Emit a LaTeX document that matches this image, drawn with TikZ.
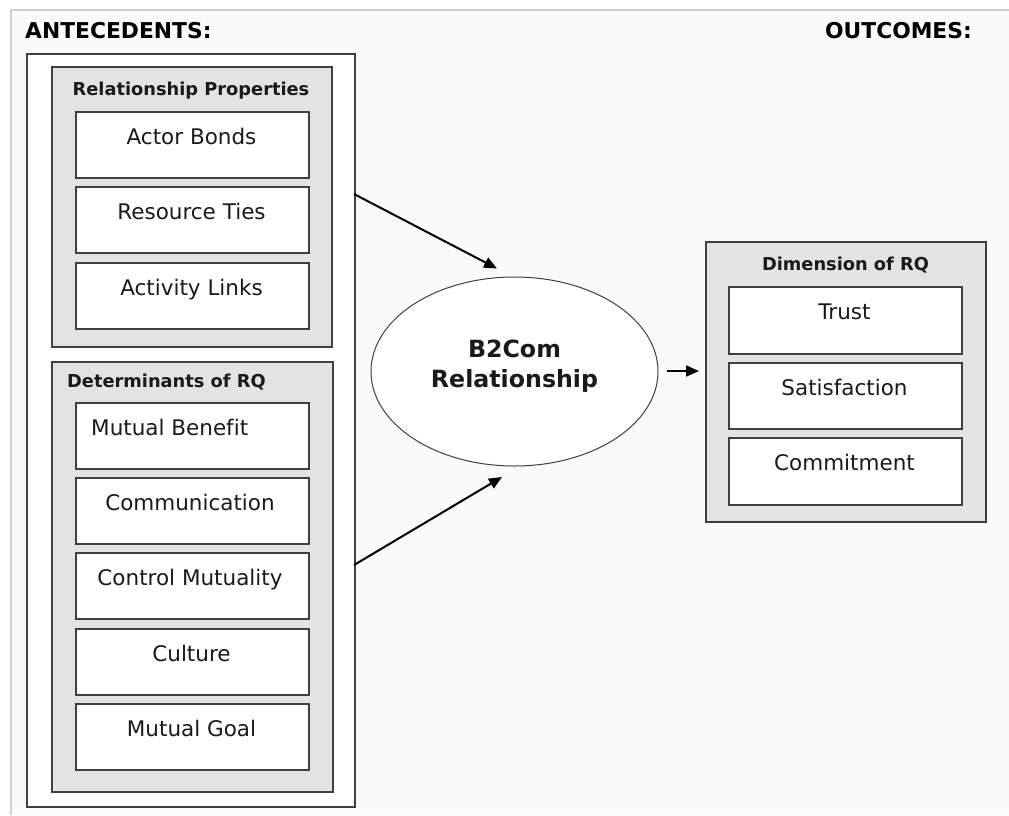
\documentclass[tikz,border=0pt]{standalone}
\usepackage{fontspec}
\setmainfont{DejaVu Sans}[Ligatures=NoCommon]
\usetikzlibrary{shapes.geometric,arrows.meta}
\definecolor{bordc}{HTML}{404040}
\definecolor{grayfill}{HTML}{E3E3E3}
\definecolor{bgc}{HTML}{FAFAFA}
\definecolor{framec}{HTML}{CFCFCF}
\definecolor{txtc}{HTML}{1A1A1A}
\tikzset{
  box/.style={draw=bordc, line width=1.5pt, rectangle, inner sep=0pt, anchor=north west},
  wbox/.style={box, fill=white},
  gbox/.style={box, fill=grayfill},
  itemtext/.style={font=\fontsize{21.5pt}{26pt}\selectfont, text=txtc, inner sep=0pt, anchor=base},
  headtext/.style={font=\fontsize{17.8pt}{22pt}\selectfont\bfseries, text=txtc, inner sep=0pt, anchor=base},
  titletext/.style={font=\fontsize{21.8pt}{26pt}\selectfont\bfseries, text=black, inner sep=0pt, anchor=base},
  bigtext/.style={font=\fontsize{23.7pt}{28pt}\selectfont\bfseries, text=txtc, inner sep=0pt, anchor=base},
  arr/.style={draw=black, line width=2pt, -{Triangle[length=13pt,width=11pt]}},
}
\begin{document}
\begin{tikzpicture}[x=1pt,y=-1pt]
\useasboundingbox (0,0) rectangle (1009,815);
\fill[white] (0,0) rectangle (1009,815);
\fill[bgc] (10,9) rectangle (1009,815);
\draw[framec, line width=2pt] (11,815) -- (11,10) -- (1009,10);

% titles
\node[titletext, anchor=base west] (ant) at (25,38) {ANTECEDENTS:};
\node[titletext, anchor=base east] (out) at (972,38) {OUTCOMES:};

% outer white box
\node[wbox, minimum width=328pt, minimum height=753pt] (outer) at (26,53) {};

% Relationship Properties
\node[gbox, minimum width=280pt, minimum height=280pt] (rp) at (51,66) {};
\node[headtext] (rpt) at (191,95) {Relationship Properties};
\node[wbox, minimum width=233pt, minimum height=66pt] (ab) at (75,111) {};
\node[itemtext] (abt) at (191.5,144) {Actor Bonds};
\node[wbox, minimum width=233pt, minimum height=66pt] (rt) at (75,186) {};
\node[itemtext] (rtt) at (191.5,219) {Resource Ties};
\node[wbox, minimum width=233pt, minimum height=66pt] (al) at (75,262) {};
\node[itemtext] (alt) at (191.5,295) {Activity Links};

% Determinants of RQ
\node[gbox, minimum width=281pt, minimum height=430pt] (det) at (51,361) {};
\node[headtext, anchor=base west] (dett) at (67,387) {Determinants of RQ};
\node[wbox, minimum width=233pt, minimum height=66pt] (mb) at (75,402) {};
\node[itemtext, anchor=base west] (mbt) at (91,435) {Mutual Benefit};
\node[wbox, minimum width=233pt, minimum height=66pt] (cm) at (75,477) {};
\node[itemtext] (cmt) at (190,510) {Communication};
\node[wbox, minimum width=233pt, minimum height=66pt] (cmu) at (75,552) {};
\node[itemtext] (cmut) at (190,585) {Control Mutuality};
\node[wbox, minimum width=233pt, minimum height=66pt] (cu) at (75,628) {};
\node[itemtext] (cut) at (191.5,661) {Culture};
\node[wbox, minimum width=233pt, minimum height=66pt] (mg) at (75,703) {};
\node[itemtext] (mgt) at (191.5,736) {Mutual Goal};

% ellipse
\node[draw=bordc, line width=1pt, fill=white, ellipse, minimum width=287pt, minimum height=189pt, inner sep=0pt] (b2c) at (514.5,371.5) {};
\node[bigtext] (b2ct1) at (514.5,357) {B2Com};
\node[bigtext] (b2ct2) at (514.5,387) {Relationship};

% Dimension of RQ
\node[gbox, minimum width=280pt, minimum height=280pt] (dim) at (705,241) {};
\node[headtext] (dimt) at (845.5,270) {Dimension of RQ};
\node[wbox, minimum width=233pt, minimum height=67pt] (tr) at (728,286) {};
\node[itemtext] (trt) at (844.5,319) {Trust};
\node[wbox, minimum width=233pt, minimum height=66pt] (sa) at (728,362) {};
\node[itemtext] (sat) at (844.5,395) {Satisfaction};
\node[wbox, minimum width=233pt, minimum height=67pt] (co) at (728,437) {};
\node[itemtext] (cot) at (844.5,470) {Commitment};

% arrows
\coordinate (a1s) at (354,194);
\coordinate (a1e) at (497,268.5);
\coordinate (a2s) at (354,565);
\coordinate (a2e) at (502,477);
\coordinate (a3s) at (667,371);
\coordinate (a3e) at (699,371);
\draw[arr] (a1s) -- (a1e);
\draw[arr] (a2s) -- (a2e);
\draw[arr] (a3s) -- (a3e);
\end{tikzpicture}
\end{document}
